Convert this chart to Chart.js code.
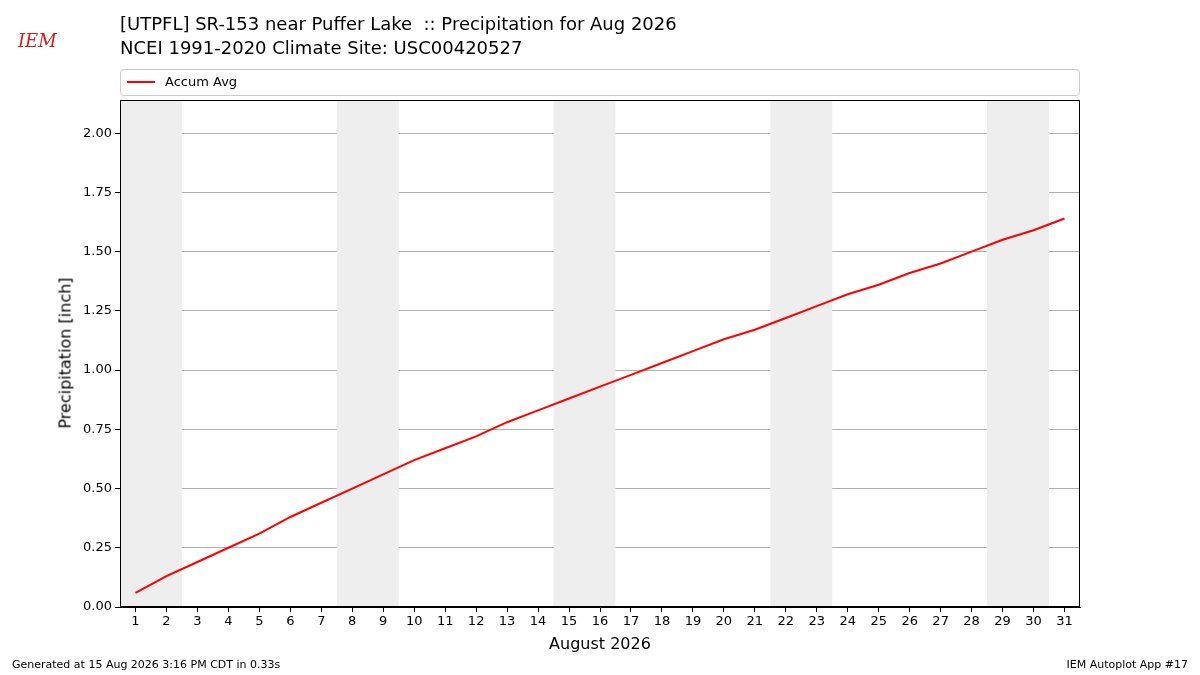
<!DOCTYPE html>
<html>
<head>
<meta charset="utf-8">
<script src="https://cdn.jsdelivr.net/npm/chart.js@4/dist/chart.umd.min.js"></script>
<style>
  body { margin: 0; background: #fff; font-family: "DejaVu Sans", sans-serif; }
  #wrap { position: relative; width: 1200px; height: 675px; }
  #chart { position: absolute; left: 0; top: 0; }
  .t { position: absolute; color: #000; white-space: nowrap; }
  #legend { position: absolute; left: 120px; top: 69px; width: 958px; height: 25px;
            border: 1px solid #ccc; border-radius: 4px; font-size: 13px; }
  #legend span.ln { position: absolute; left: 6px; top: 11px; width: 28px; height: 2px; background: red; }
  #legend span.lb { position: absolute; left: 44px; top: 4px; }
</style>
</head>
<body>
<div id="wrap">
  <canvas id="chart" width="1200" height="675"></canvas>
  <div class="t" style="left:18px;top:30px;font-family:'DejaVu Serif',serif;font-style:italic;color:#d02020;font-size:18px;">IEM</div>
  <div class="t" style="left:120px;top:13px;font-size:18px;">[UTPFL] SR-153 near Puffer Lake&nbsp; :: Precipitation for Aug 2026</div>
  <div class="t" style="left:120px;top:37px;font-size:18px;">NCEI 1991-2020 Climate Site: USC00420527</div>
  <div id="legend"><span class="ln"></span><span class="lb">Accum Avg</span></div>
  <div class="t" style="left:600px;top:634px;font-size:16px;transform:translateX(-50%);">August 2026</div>
  <div class="t" style="left:65px;top:353px;font-size:16px;transform:translate(-50%,-50%) rotate(-90deg);">Precipitation [inch]</div>
  <div class="t" style="left:12px;top:658px;font-size:11px;">Generated at 15 Aug 2026 3:16 PM CDT in 0.33s</div>
  <div class="t" style="right:12px;top:658px;font-size:11px;">IEM Autoplot App #17</div>
</div>
<script>
// days of August 2026
const days = Array.from({ length: 31 }, (_, i) => i + 1);
// accumulated average precipitation (inch)
const accumAvg = [0.06, 0.13, 0.19, 0.25, 0.31, 0.38, 0.44, 0.50, 0.56, 0.62,
                  0.67, 0.72, 0.78, 0.83, 0.88, 0.93, 0.98, 1.03, 1.08, 1.13,
                  1.17, 1.22, 1.27, 1.32, 1.36, 1.41, 1.45, 1.50, 1.55, 1.59, 1.64];
// weekend shading bands [start, end]
const weekends = [[1, 2], [8, 9], [15, 16], [22, 23], [29, 30]];
const yTicks = [0, 0.25, 0.5, 0.75, 1.0, 1.25, 1.5, 1.75, 2.0];

const weekendShade = {
  id: 'weekendShade',
  beforeDatasetsDraw(chart) {
    const { ctx, chartArea, scales } = chart;
    ctx.save();
    ctx.fillStyle = '#eeeeee';
    weekends.forEach(([a, b]) => {
      const x1 = scales.x.getPixelForValue(a - 0.5);
      const x2 = scales.x.getPixelForValue(b + 0.5);
      ctx.fillRect(x1, chartArea.top, x2 - x1, chartArea.bottom - chartArea.top);
    });
    ctx.restore();
  },
  afterDraw(chart) {
    const { ctx, chartArea: a } = chart;
    ctx.save();
    ctx.strokeStyle = '#000';
    ctx.lineWidth = 1;
    ctx.strokeRect(a.left + 0.5, a.top + 0.5, a.right - a.left - 1, a.bottom - a.top - 1);
    ctx.restore();
  }
};

new Chart(document.getElementById('chart'), {
  type: 'line',
  data: {
    datasets: [{
      label: 'Accum Avg',
      data: days.map((d, i) => ({ x: d, y: accumAvg[i] })),
      borderColor: 'red',
      borderWidth: 2,
      pointRadius: 0,
      tension: 0,
      fill: false
    }]
  },
  options: {
    responsive: false,
    animation: false,
    layout: { padding: { top: 100, right: 120, left: 0, bottom: 0 } },
    plugins: { legend: { display: false }, tooltip: { enabled: false } },
    scales: {
      x: {
        type: 'linear', min: 0.5, max: 31.5,
        afterBuildTicks: s => { s.ticks = days.map(v => ({ value: v })); },
        afterFit: s => { s.height = 68; },
        ticks: { color: '#000', font: { family: 'DejaVu Sans', size: 13 }, maxRotation: 0, autoSkip: false, padding: 2 },
        grid: { drawOnChartArea: false, drawTicks: true, tickLength: 5, tickColor: '#000' },
        border: { color: '#000' }
      },
      y: {
        min: 0, max: 2.14,
        afterBuildTicks: s => { s.ticks = yTicks.map(v => ({ value: v })); },
        afterFit: s => { s.width = 120; },
        ticks: { color: '#000', font: { family: 'DejaVu Sans', size: 13 }, callback: v => v.toFixed(2) },
        grid: { color: '#b0b0b0', tickLength: 5, tickColor: '#000' },
        border: { color: '#000' }
      }
    }
  },
  plugins: [weekendShade]
});
</script>
</body>
</html>
